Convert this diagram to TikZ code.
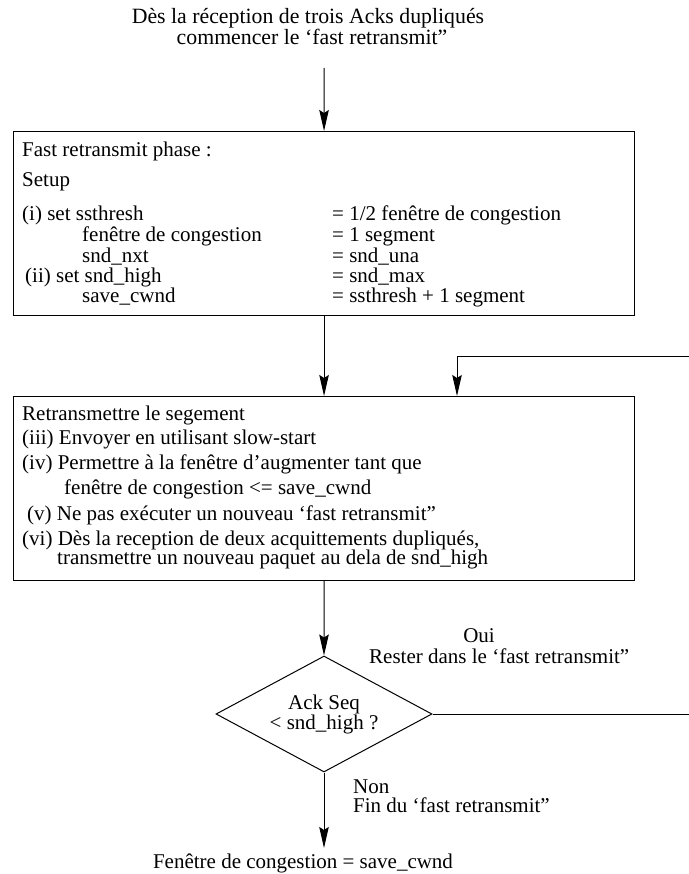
\documentclass[tikz,border=0pt]{standalone}
\usepackage{fontspec}
\setmainfont{Liberation Serif}
\usetikzlibrary{arrows.meta,shapes.geometric}
\newcommand\myfs{\fontsize{21}{19}\selectfont}
\newcommand\myfsb{\fontsize{21.8}{21}\selectfont}
\tikzset{
  txt/.style={inner sep=0pt, anchor=base west, font=\myfs},
  ctxt/.style={inner sep=0pt, anchor=base, font=\myfs},
  boxr/.style={draw, line width=1.1pt, minimum width=621pt, minimum height=184pt, inner sep=0pt, anchor=north west},
  dia/.style={draw, diamond, line width=1pt, aspect=1.86, minimum width=216pt, minimum height=116pt, inner sep=0pt, align=center, font=\myfs},
  arr/.style={line width=1pt, -{Stealth[length=21pt,width=9.5pt,inset=3pt]}},
}
\begin{document}
\begin{tikzpicture}[x=1pt,y=-1pt]
\useasboundingbox (0,0) rectangle (688,874);
% top text
\node[ctxt, font=\myfsb] (h1) at (308,24) {Dès la réception de trois Acks dupliqués};
\node[ctxt, font=\myfsb] (h2) at (312,45) {commencer le ‘fast retransmit”};
% boxes
\node[boxr] (b1) at (13,131) {};
\node[boxr] (b2) at (13,396) {};
\node[dia] (d) at (324,714) {Ack Seq\\< snd\_high ?};
% box 1 text
\node[txt] (p1) at (22,157) {Fast retransmit phase :};
\node[txt] (p2) at (22,187) {Setup};
\node[txt] (p3) at (22,221) {(i) set ssthresh};
\node[txt] (p4) at (82,242) {fenêtre de congestion};
\node[txt] (p5) at (82,262) {snd\_nxt};
\node[txt] (p6) at (25,282) {(ii) set snd\_high};
\node[txt] (p7) at (82,302) {save\_cwnd};
\node[txt] (q3) at (332,221) {= 1/2 fenêtre de congestion};
\node[txt] (q4) at (332,242) {= 1 segment};
\node[txt] (q5) at (332,262) {= snd\_una};
\node[txt] (q6) at (332,282) {= snd\_max};
\node[txt] (q7) at (332,302) {= ssthresh + 1 segment};
% box 2 text
\node[txt] (r1) at (22,420) {Retransmettre le segement};
\node[txt] (r2) at (22,444) {(iii) Envoyer en utilisant slow-start};
\node[txt] (r3) at (22,469) {(iv) Permettre à la fenêtre d’augmenter tant que};
\node[txt] (r4) at (64,494) {fenêtre de congestion <= save\_cwnd};
\node[txt] (r5) at (27,520) {(v) Ne pas exécuter un nouveau ‘fast retransmit”};
\node[txt] (r6) at (22,545) {(vi) Dès la reception de deux acquittements dupliqués,};
\node[txt] (r7) at (57,564) {transmettre un nouveau paquet au dela de snd\_high};
% labels
\node[ctxt] (oui) at (479,642) {Oui};
\node[txt] (rester) at (369,663) {Rester dans le ‘fast retransmit”};
\node[txt] (non) at (353,793) {Non};
\node[txt] (findu) at (353,812) {Fin du ‘fast retransmit”};
\node[ctxt] (fin) at (303,868) {Fenêtre de congestion = save\_cwnd};
% connectors
\coordinate (s) at (324,68);
\coordinate (e4) at (324,848);
\coordinate (xr) at (690,356);
\coordinate (la) at (457,356);
\draw[arr] (s) -- (b1.north);
\draw[arr] (b1.south) -- (b2.north);
\draw[arr] (b2.south) -- (d.north);
\draw[arr] (d.south) -- (e4);
\draw[arr] (d.east) -| (xr) -- (la) -- (la |- b2.north);
\end{tikzpicture}
\end{document}
